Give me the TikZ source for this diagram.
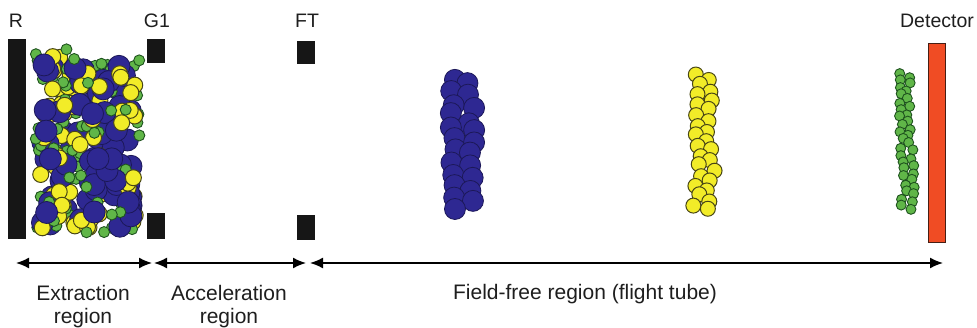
\documentclass[tikz,border=0pt]{standalone}
\usepackage{fontspec}
\setmainfont{Liberation Sans}
\usetikzlibrary{arrows.meta}

\definecolor{ionblue}{RGB}{46,40,146}
\definecolor{ionblueline}{RGB}{28,24,88}
\definecolor{ionyellow}{RGB}{242,236,40}
\definecolor{ionyellowline}{RGB}{72,70,22}
\definecolor{iongreen}{RGB}{96,182,72}
\definecolor{iongreenline}{RGB}{30,82,30}
\definecolor{detred}{RGB}{240,76,36}
\definecolor{detline}{RGB}{70,30,20}
\definecolor{plate}{RGB}{22,22,22}
\definecolor{labeltext}{RGB}{30,30,30}

\tikzset{
  heavy/.style={fill=ionblue, draw=ionblueline, line width=0.8pt},
  medium/.style={fill=ionyellow, draw=ionyellowline, line width=1pt},
  light/.style={fill=iongreen, draw=iongreenline, line width=0.9pt},
  electrode/.style={fill=plate, draw=none, inner sep=0pt, outer sep=0pt},
  detplate/.style={fill=detred, draw=detline, line width=1.2pt, inner sep=0pt},
  toplabel/.style={text=labeltext, font=\fontsize{19.5}{22}\selectfont, inner sep=0pt},
  botlabel/.style={text=labeltext, font=\fontsize{21}{23}\selectfont, inner sep=0pt, align=center},
  span/.style={draw=black, line width=1.6pt,
    {Latex[length=13pt,width=11pt]}-{Latex[length=13pt,width=11pt]}}
}

\begin{document}
\begin{tikzpicture}[x=1pt,y=-1pt]
\useasboundingbox (0,0) rectangle (977,328);

% mixed ions in the extraction region
\pgfmathsetseed{12}
\foreach \i in {1,...,250}{
  \pgfmathsetmacro{\k}{rnd}
  \pgfmathsetmacro{\u}{rnd}
  \pgfmathsetmacro{\v}{rnd}
  \ifdim\k pt<0.34pt
    \path[heavy] ({41+\u*93},{53+\v*174}) circle (11pt);
  \else\ifdim\k pt<0.66pt
    \path[medium] ({38+\u*99},{50+\v*180}) circle (8pt);
  \else
    \path[light] ({35+\u*106},{47+\v*186}) circle (5.5pt);
  \fi\fi
}

% electrodes
\node[electrode, minimum width=18pt, minimum height=200pt, anchor=north west] (R) at (8,39) {};
\node[electrode, minimum width=18pt, minimum height=24pt, anchor=north west] (G1a) at (147,39) {};
\node[electrode, minimum width=18pt, minimum height=26pt, anchor=north west] (G1b) at (147,213) {};
\node[electrode, minimum width=18pt, minimum height=23pt, anchor=north west] (FTa) at (297,41) {};
\node[electrode, minimum width=18pt, minimum height=25pt, anchor=north west] (FTb) at (297,215) {};
\node[detplate, minimum width=17pt, minimum height=199pt, anchor=north west] (D) at (928,43) {};

% heavy ion packet: two loose columns
\pgfmathsetseed{5}
\foreach \i in {0,...,22}{
  \pgfmathsetmacro{\s}{ifthenelse(mod(\i,2)==0,-1,1)}
  \pgfmathsetmacro{\cx}{462 + \s*9 + 4*rand}
  \pgfmathsetmacro{\cy}{80 + \i*5.8 + 3*rand}
  \path[heavy] (\cx,\cy) circle (10.5pt);
}

% medium ion packet
\pgfmathsetseed{9}
\foreach \i in {0,...,27}{
  \pgfmathsetmacro{\s}{ifthenelse(mod(\i,2)==0,-1,1)}
  \pgfmathsetmacro{\cx}{704 + 2*sin(\i*24) + \s*6 + 3*rand}
  \pgfmathsetmacro{\cy}{75 + \i*5 + 2*rand}
  \path[medium] (\cx,\cy) circle (7.5pt);
}

% light ion packet
\pgfmathsetseed{3}
\foreach \i in {0,...,37}{
  \pgfmathsetmacro{\s}{ifthenelse(mod(\i,2)==0,-1,1)}
  \pgfmathsetmacro{\cx}{906 - 2.5*sin(\i*9) + \s*4 + 2.5*rand}
  \pgfmathsetmacro{\cy}{73 + \i*3.7 + 1.5*rand}
  \path[light] (\cx,\cy) circle (5pt);
}

% electrode labels
\node[toplabel, anchor=base] (lR) at (16,28) {R};
\node[toplabel, anchor=base] (lG) at (157,28) {G1};
\node[toplabel, anchor=base] (lF) at (307,28) {FT};
\node[toplabel, anchor=base] (lD) at (937,28) {Detector};

% region spans
\coordinate (e1) at (16,263);
\coordinate (e2) at (152,263);
\coordinate (a1) at (154,263);
\coordinate (a2) at (306,263);
\coordinate (f1) at (310,263);
\coordinate (f2) at (943,263);
\draw[span] (e1) -- (e2);
\draw[span] (a1) -- (a2);
\draw[span] (f1) -- (f2);

% region labels
\node[botlabel, anchor=north] (ext) at (83,285) {Extraction\\region};
\node[botlabel, anchor=north] (acc) at (229,285) {Acceleration\\region};
\node[botlabel, anchor=base] (fld) at (585,300) {Field-free region (flight tube)};
\end{tikzpicture}
\end{document}
